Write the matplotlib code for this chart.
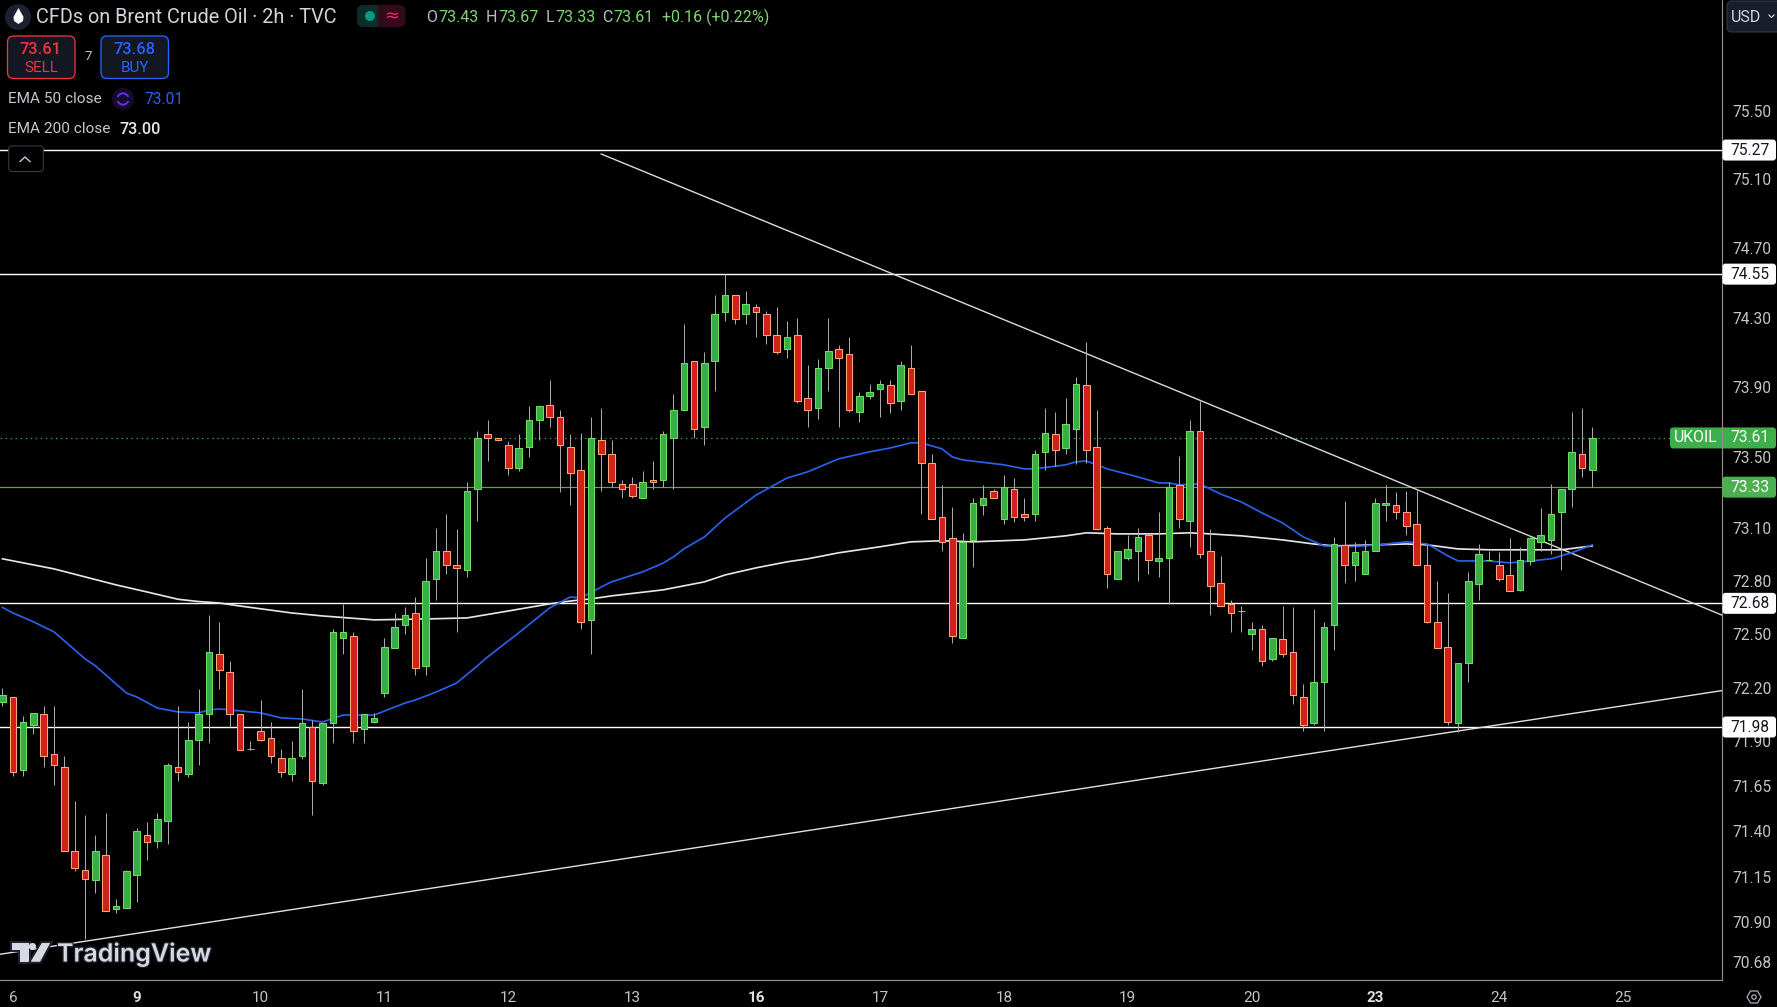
import numpy as np
import matplotlib
matplotlib.use("Agg")
import matplotlib.pyplot as plt
from matplotlib.patches import FancyBboxPatch, Circle, Polygon, Rectangle, Wedge
import matplotlib.patheffects as pe

# ---------- data ----------
opens = [72.12, 72.15, 71.74, 71.99, 72.05, 71.83, 71.76, 71.29, 71.19, 71.13,
         71.27, 70.97, 70.98, 71.16, 71.38, 71.35, 71.46, 71.76, 71.72, 71.91,
         72.05, 72.39, 72.29, 72.05, 71.86, 71.96, 71.92, 71.81, 71.72, 71.82,
         71.98, 71.67, 72.00, 72.48, 72.49, 71.97, 72.01, 72.17, 72.42, 72.55,
         72.62, 72.32, 72.81, 72.97, 72.89, 72.86, 73.32, 73.63, 73.61, 73.57,
         73.44, 73.56, 73.71, 73.80, 73.73, 73.56, 73.43, 72.58, 73.60, 73.52,
         73.35, 73.35, 73.27, 73.37, 73.37, 73.61, 73.77, 74.05, 73.67, 74.05,
         74.33, 74.43, 74.32, 74.36, 74.32, 74.20, 74.12, 74.20, 73.84, 73.78,
         74.01, 74.12, 74.09, 73.76, 73.85, 73.89, 73.91, 73.82, 74.01, 73.88,
         73.47, 73.16, 73.04, 72.48, 73.03, 73.23, 73.31, 73.15, 73.32, 73.18,
         73.18, 73.53, 73.63, 73.55, 73.66, 73.91, 73.56, 73.10, 72.81, 72.93,
         72.97, 73.06, 72.91, 72.93, 73.34, 73.14, 73.65, 72.97, 72.79, 72.67,
         72.63, 72.50, 72.53, 72.36, 72.47, 72.40, 72.15, 72.00, 72.23, 72.55,
         73.00, 72.89, 72.84, 72.97, 73.23, 73.23, 73.19, 73.12, 72.89, 72.57,
         72.43, 72.00, 72.34, 72.78, 72.92, 72.89, 72.83, 72.75, 72.91, 73.02,
         73.03, 73.19, 73.32, 73.52, 73.43]
highs = [72.20, 72.15, 72.04, 72.06, 72.10, 72.10, 71.82, 71.57, 71.49, 71.38,
         71.50, 71.03, 71.19, 71.42, 71.45, 71.50, 71.78, 72.10, 72.01, 72.19,
         72.61, 72.57, 72.35, 72.05, 71.90, 72.13, 72.01, 71.86, 71.90, 72.19,
         72.02, 72.00, 72.53, 72.67, 72.51, 72.05, 72.06, 72.48, 72.62, 72.65,
         72.71, 72.93, 73.10, 73.18, 73.09, 73.36, 73.65, 73.71, 73.61, 73.59,
         73.63, 73.79, 73.79, 73.94, 73.77, 73.63, 73.64, 73.73, 73.78, 73.60,
         73.37, 73.39, 73.42, 73.48, 73.65, 73.86, 74.26, 74.05, 74.10, 74.43,
         74.55, 74.43, 74.45, 74.38, 74.34, 74.36, 74.28, 74.30, 74.03, 74.06,
         74.30, 74.14, 74.19, 73.87, 73.92, 73.94, 73.94, 74.05, 74.14, 73.88,
         73.52, 73.34, 73.22, 73.07, 73.27, 73.34, 73.32, 73.40, 73.38, 73.27,
         73.54, 73.78, 73.76, 73.84, 73.96, 74.16, 73.77, 73.11, 72.97, 73.06,
         73.10, 73.06, 73.19, 73.36, 73.51, 73.71, 73.82, 73.09, 72.94, 72.69,
         72.66, 72.57, 72.55, 72.48, 72.66, 72.65, 72.22, 72.64, 72.57, 73.05,
         73.25, 73.02, 73.03, 73.27, 73.34, 73.30, 73.31, 73.32, 73.00, 72.80,
         72.73, 72.34, 72.85, 73.01, 72.97, 72.96, 73.04, 72.99, 73.05, 73.21,
         73.35, 73.32, 73.76, 73.78, 73.67]
lows = [72.10, 71.71, 71.71, 71.94, 71.76, 71.66, 71.29, 71.18, 70.81, 71.06,
        70.96, 70.95, 70.98, 71.01, 71.24, 71.31, 71.33, 71.68, 71.70, 71.77,
        71.89, 72.19, 71.98, 71.85, 71.85, 71.90, 71.78, 71.70, 71.68, 71.80,
        71.49, 71.66, 71.89, 72.39, 71.89, 71.89, 72.00, 72.15, 72.42, 72.50,
        72.27, 72.27, 72.69, 72.84, 72.51, 72.82, 73.14, 73.48, 73.59, 73.40,
        73.42, 73.50, 73.60, 73.67, 73.30, 73.23, 72.53, 72.39, 73.31, 73.33,
        73.27, 73.27, 73.27, 73.32, 73.33, 73.32, 73.77, 73.61, 73.57, 73.88,
        74.28, 74.26, 74.26, 74.19, 74.15, 74.09, 74.07, 73.81, 73.67, 73.72,
        73.88, 73.67, 73.76, 73.70, 73.83, 73.73, 73.75, 73.77, 73.86, 73.18,
        73.15, 72.97, 72.45, 72.48, 72.88, 73.17, 73.27, 73.12, 73.13, 73.14,
        73.14, 73.43, 73.45, 73.52, 73.46, 73.47, 73.09, 72.76, 72.81, 72.92,
        72.80, 72.84, 72.82, 72.67, 73.10, 72.99, 72.93, 72.61, 72.66, 72.51,
        72.51, 72.41, 72.32, 72.35, 72.37, 72.11, 71.96, 71.99, 71.96, 72.41,
        72.79, 72.80, 72.84, 72.97, 73.14, 73.15, 73.06, 72.89, 72.56, 72.42,
        71.99, 71.95, 72.23, 72.69, 72.91, 72.80, 72.74, 72.74, 72.89, 72.97,
        72.95, 72.86, 73.22, 73.39, 73.33]
closes = [72.16, 71.73, 72.01, 72.06, 71.82, 71.77, 71.29, 71.20, 71.14, 71.29,
          70.96, 70.99, 71.18, 71.40, 71.34, 71.47, 71.77, 71.73, 71.91, 72.05,
          72.40, 72.30, 72.05, 71.85, 71.86, 71.91, 71.82, 71.73, 71.81, 72.00,
          71.68, 72.00, 72.51, 72.51, 71.96, 72.05, 72.03, 72.43, 72.54, 72.61,
          72.31, 72.80, 72.97, 72.89, 72.87, 73.31, 73.61, 73.61, 73.60, 73.44,
          73.55, 73.71, 73.79, 73.73, 73.57, 73.41, 72.57, 73.61, 73.52, 73.36,
          73.32, 73.28, 73.36, 73.36, 73.63, 73.77, 74.04, 73.66, 74.04, 74.32,
          74.43, 74.29, 74.38, 74.33, 74.20, 74.10, 74.19, 73.82, 73.77, 74.01,
          74.11, 74.07, 73.77, 73.85, 73.87, 73.92, 73.81, 74.03, 73.86, 73.47,
          73.15, 73.02, 72.49, 73.02, 73.24, 73.27, 73.27, 73.33, 73.16, 73.16,
          73.52, 73.64, 73.54, 73.69, 73.92, 73.54, 73.09, 72.84, 72.97, 72.98,
          73.05, 72.92, 72.93, 73.33, 73.15, 73.65, 72.95, 72.77, 72.66, 72.62,
          72.63, 72.53, 72.35, 72.48, 72.39, 72.16, 71.99, 72.23, 72.54, 73.01,
          72.89, 72.96, 72.97, 73.24, 73.24, 73.19, 73.11, 72.89, 72.57, 72.42,
          72.01, 72.34, 72.80, 72.95, 72.92, 72.81, 72.74, 72.92, 73.04, 73.06,
          73.18, 73.32, 73.53, 73.44, 73.61]

ema50_bars = [0, 1, 3, 5, 8, 9, 12, 13, 15, 17, 19, 20, 21, 23, 25, 27, 29, 31, 33, 36,
              39, 40, 42, 44, 46, 47, 50, 53, 55, 56, 58, 59, 62, 64, 65, 66, 68, 70, 73, 76,
              78, 81, 84, 86, 88, 89, 91, 92, 93, 97, 99, 100, 103, 104, 105, 107, 110, 112, 113, 114,
              116, 118, 120, 122, 124, 126, 128, 130, 132, 134, 136, 138, 139, 140, 141, 144, 146, 148, 150, 152, 154]
ema50_vals = [72.650, 72.619, 72.569, 72.512, 72.361, 72.322, 72.170, 72.148, 72.086, 72.064,
              72.059, 72.075, 72.081, 72.070, 72.059, 72.031, 72.025, 72.008, 72.047, 72.047,
              72.114, 72.131, 72.175, 72.226, 72.322, 72.372, 72.507, 72.647, 72.709, 72.703,
              72.765, 72.794, 72.850, 72.900, 72.935, 72.980, 73.048, 73.155, 73.285, 73.382,
              73.417, 73.491, 73.531, 73.553, 73.582, 73.582, 73.548, 73.502, 73.485, 73.457,
              73.434, 73.434, 73.457, 73.474, 73.479, 73.434, 73.388, 73.354, 73.354, 73.343,
              73.348, 73.291, 73.246, 73.184, 73.127, 73.048, 72.997, 72.992, 72.997, 73.008,
              73.020, 73.008, 72.975, 72.941, 72.912, 72.912, 72.901, 72.912, 72.924, 72.958, 73.003]
ema200_bars = [0, 5, 11, 14, 17, 19, 21, 23, 28, 31, 36, 41, 45, 49, 53, 55, 57, 59, 64, 68, 70, 73,
               76, 78, 81, 85, 88, 91, 94, 99, 103, 105, 108, 112, 115, 117, 120, 124, 127, 129,
               133, 136, 138, 141, 144, 148, 151, 154]
ema200_vals = [72.924, 72.867, 72.777, 72.737, 72.696, 72.683, 72.675, 72.658, 72.619, 72.602, 72.580, 72.585,
               72.591, 72.630, 72.670, 72.686, 72.698, 72.715, 72.749, 72.794, 72.833, 72.873,
               72.907, 72.924, 72.958, 72.992, 73.020, 73.026, 73.020, 73.031, 73.054, 73.071,
               73.065, 73.065, 73.071, 73.065, 73.054, 73.031, 73.008, 72.997,
               73.003, 73.008, 73.003, 72.980, 72.975, 72.975, 72.975, 72.997]

white_levels = [75.27, 74.55, 72.673, 71.98]
white_level_labels = ['75.27', '74.55', '72.68', '71.98']
green_level = 73.33
last_price = 73.61
trend_down_x = [58.0, 166.52]
trend_down_y = [75.247, 72.608]
trend_up_x = [-0.242, 166.52]
trend_up_y = [70.724, 72.183]

y_ticks = [75.50, 75.10, 74.70, 74.30, 73.90, 73.50, 73.10, 72.80, 72.50, 72.20,
           71.90, 71.65, 71.40, 71.15, 70.90, 70.68]
x_tick_bars = [1, 13, 25, 37, 49, 61, 73, 85, 97, 109, 121, 133, 145, 157]
x_tick_labels = ['6', '9', '10', '11', '12', '13', '16', '17', '18', '19', '20', '23', '24', '25']
x_tick_bold = ['9', '16', '23']

# ---------- figure ----------
W, H = 1777, 1007
FONT = 'Roboto'
plt.rcParams['font.family'] = [FONT, 'DejaVu Sans']
fig = plt.figure(figsize=(W / 100, H / 100), dpi=100, facecolor='black')
px = 0.72  # one pixel in points

AX_R, AX_B = 1721.5, 979.5
ax = fig.add_axes([0, 1 - AX_B / H, AX_R / W, AX_B / H], facecolor='black')
ax.set_yscale('log')
ax.set_xlim(-0.242, 166.52)
ax.set_ylim(70.586, 76.150)

GRN, GRN_E = '#39ad46', '#6fdc62'
RED, RED_E = '#d2201a', '#ffa878'
WICK = '#a8a8a8'

for lv in white_levels:
    ax.axhline(lv, color='white', lw=1.4 * px, zorder=2)
ax.axhline(green_level, color='#4caf50', lw=1.2 * px, zorder=2)
ax.axhline(last_price, color='#2fae3c', lw=1.2 * px, ls=(0, (1.2, 3)), zorder=2)
ax.plot(trend_down_x, trend_down_y, color='#d9d9d9', lw=1.4 * px, zorder=3)
ax.plot(trend_up_x, trend_up_y, color='#e0e0e0', lw=1.4 * px, zorder=3)
ax.plot(ema200_bars, ema200_vals, color='#e6e6e6', lw=1.7 * px, zorder=3)
ax.plot(ema50_bars, ema50_vals, color='#2962ee', lw=1.7 * px, zorder=3)

o, h, l, c = map(np.array, (opens, highs, lows, closes))
xs = np.arange(len(o))
up = c >= o
ax.vlines(xs, l, h, color=WICK, lw=1.0 * px, zorder=4)
ax.bar(xs[up], (c - o)[up], bottom=o[up], width=0.64, color=GRN, edgecolor=GRN_E,
       linewidth=1.0 * px, zorder=5)
ax.bar(xs[~up], (c - o)[~up], bottom=o[~up], width=0.64, color=RED, edgecolor=RED_E,
       linewidth=1.0 * px, zorder=5)

for s in ('top', 'left'):
    ax.spines[s].set_visible(False)
for s in ('right', 'bottom'):
    ax.spines[s].set_color('#8c8c8c')
    ax.spines[s].set_linewidth(1.2 * px)

ax.yaxis.tick_right()
ax.set_yticks(y_ticks)
ax.set_yticklabels([f'{t:.2f}' for t in y_ticks])
ax.minorticks_off()
ax.yaxis.set_minor_formatter(matplotlib.ticker.NullFormatter())
ax.tick_params(axis='y', length=0, pad=7.5, labelsize=11.2, labelcolor='#c4c4c4')
ax.set_xticks(x_tick_bars)
ax.set_xticklabels(x_tick_labels)
ax.tick_params(axis='x', length=0, pad=8.5, labelsize=11, labelcolor='#c4c4c4')
ax.set_xlim(-0.242, 166.52)
for lab in ax.get_xticklabels():
    lab.set_clip_on(False)
    if lab.get_text() in x_tick_bold:
        lab.set_fontweight('bold')
        lab.set_color('#e0e0e0')

# ---------- overlay in pixel coordinates ----------
ov = fig.add_axes([0, 0, 1, 1], facecolor='none')
ov.set_xlim(0, W)
ov.set_ylim(H, 0)
ov.axis('off')


def ypx(price):
    return H - ax.transData.transform((0, price))[1]


def T(x, y, s, color='#d1d4dc', size=10, ha='left', va='center', **kw):
    return ov.text(x, y, s, color=color, fontsize=size, ha=ha, va=va, **kw)


def box(x0, y0, x1, y1, fc, ec='none', r=3, lw=1.0, z=6):
    ov.add_patch(FancyBboxPatch((x0 + r, y0 + r), x1 - x0 - 2 * r, y1 - y0 - 2 * r,
                                boxstyle=f'round,pad={r},rounding_size={r}', fc=fc, ec=ec,
                                lw=lw * px, zorder=z, mutation_aspect=1))


# price badges
for lv, lab in zip(white_levels, white_level_labels):
    y = ypx(lv)
    box(1722.5, y - 10.5, 1776, y + 10.5, 'white')
    T(1750, y, lab, color='#131722', size=11.2, ha='center', zorder=7)
y = ypx(green_level)
box(1722.5, y - 10.5, 1776, y + 10.5, '#4caf50')
T(1750, y, f'{green_level:.2f}', color='white', size=11.2, ha='center', zorder=7)
y = ypx(last_price)
box(1670, y - 10.5, 1776, y + 10.5, '#3cae4a')
ov.plot([1721.5, 1721.5], [y - 10.5, y + 10.5], color='#8c8c8c', lw=1.2 * px, zorder=7)
T(1696, y, 'UKOIL', color='white', size=11.4, ha='center', zorder=7)
T(1750, y, f'{last_price:.2f}', color='white', size=11.2, ha='center', zorder=7)

# header
ov.add_patch(Circle((18, 17), 13, fc='#1c2030', ec='none', zorder=6))
ov.add_patch(Polygon([(18.5, 8), (13.5, 17), (14, 21), (18.5, 24), (23, 21), (23.5, 17)], fc='white', ec='none', zorder=7))
T(35.5, 17.5, 'CFDs on Brent Crude Oil · 2h · TVC', color='#d1d4dc', size=14.3)
box(357, 5, 384, 27, '#0b2e29', r=6)
box(378, 5, 405.5, 27, '#33091c', r=6)
ov.add_patch(Rectangle((378, 5), 4, 22, fc='#33091c', ec='none', zorder=6))
ov.add_patch(Circle((370, 16), 5, fc='#089981', ec='none', zorder=7))
T(392, 16, '≈', color='#f0285f', size=13, ha='center', family=['DejaVu Sans'], zorder=7)

OC = '#7ed66f'
LBL = '#b8bcc6'
for x, s, col in [(426, 'O', LBL), (438.5, '73.43', OC), (486, 'H', LBL), (498.5, '73.67', OC),
                  (546, 'L', LBL), (555, '73.33', OC), (602, 'C', LBL), (613.5, '73.61', OC),
                  (662, '+0.16 (+0.22%)', OC)]:
    T(x, 17, s, color=col, size=11.5)

# sell / buy
box(7.5, 36, 75, 78.5, '#131722', '#f7303f', r=6, lw=1.3)
T(41, 50, '73.61', color='#f7303f', size=11.8, ha='center', weight='medium', zorder=7)
T(41, 67.5, 'SELL', color='#f7303f', size=11, ha='center', zorder=7)
T(88, 57, '7', color='#c4c7d0', size=9.6, ha='center')
box(101, 36, 168.5, 78.5, '#131722', '#2962ff', r=6, lw=1.3)
T(135, 50, '73.68', color='#2962ff', size=11.8, ha='center', weight='medium', zorder=7)
T(135, 67.5, 'BUY', color='#2962ff', size=11, ha='center', zorder=7)

# indicators
T(8, 99, 'EMA 50 close', color='#c4c7d0', size=11.1)
ov.add_patch(Circle((123, 99), 11, fc='#150c2b', ec='none', zorder=6))
ov.add_patch(Wedge((123, 99), 6.6, 200, 340, width=1.9, fc='#6a2cf5', ec='none', zorder=7))
ov.add_patch(Wedge((123, 99), 6.6, 20, 160, width=1.9, fc='#6a2cf5', ec='none', zorder=7))
T(144, 99, '73.01', color='#2962ee', size=11.2)
T(8, 129, 'EMA 200 close', color='#c4c7d0', size=11.1)
T(120, 129, '73.00', color='#e8e8e8', size=11.6, weight='medium')
box(8.7, 146, 43.4, 171.5, 'black', '#3a3d46', r=3, lw=1.0)
ov.plot([20, 25, 30], [161.5, 157, 161.5], color='#c4c7d0', lw=1.4 * px, zorder=7)

# USD button
box(1727, 1, 1790, 32, '#1a1e2b', '#363a45', r=5, lw=1.0)
T(1731, 17, 'USD', color='#d1d4dc', size=11.5, zorder=7)
ov.plot([1769, 1771.5, 1774], [15, 17.5, 15], color='#d1d4dc', lw=1.2 * px, zorder=7)

# settings icon
ov.add_patch(Polygon([(1747, 997), (1750.5, 991), (1757.5, 991), (1761, 997), (1757.5, 1003), (1750.5, 1003)],
                     fc='none', ec='#b2b5be', lw=1.2 * px, zorder=7))
ov.add_patch(Circle((1754, 997), 2.2, fc='none', ec='#b2b5be', lw=1.2 * px, zorder=7))

# TradingView watermark
WM = '#d6d8e2'
halo = [pe.withStroke(linewidth=4 * px, foreground='#20232f')]
for poly in ([(12, 943), (28.5, 943), (28.5, 961.5), (20, 961.5), (20, 950), (12, 950)],
             [(42, 943), (50, 943), (40, 961.5), (31, 961.5)]):
    p = Polygon(poly, fc=WM, ec='none', zorder=8)
    p.set_path_effects(halo + [pe.Normal()])
    ov.add_patch(p)
cc = Circle((32.5, 946.5), 3.6, fc=WM, ec='none', zorder=8)
ov.add_patch(cc)
T(57, 954, 'TradingView', color=WM, size=18, weight='semibold', family='Inter', zorder=8,
  path_effects=[pe.withStroke(linewidth=2.5 * px, foreground='#20232f')])

fig.savefig('out.png', dpi=100, facecolor='black')
